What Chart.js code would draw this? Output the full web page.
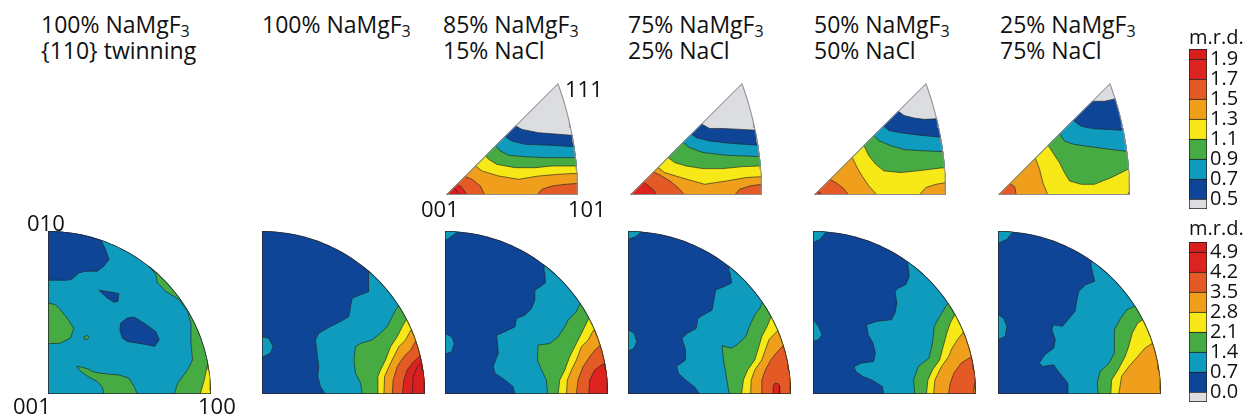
<!DOCTYPE html>
<html><head><meta charset="utf-8">
<script src="https://cdn.jsdelivr.net/npm/chart.js@4.4.1/dist/chart.umd.min.js"></script>
<style>
html,body{margin:0;padding:0;background:#fff}
#fig{position:relative;width:1248px;height:418px;overflow:hidden;font-family:'Open Sans',sans-serif;color:#111}
#fig canvas{position:absolute}
.lbl{position:absolute;white-space:nowrap}
.ttl{font-size:23px;line-height:23px}
.ax{font-size:22px;line-height:22px}
.mrd{font-size:20px;line-height:20px}
.sub{font-size:16px;position:relative;top:4px}
</style></head>
<body><div id="fig"></div>
<script>
// ---- colour-key levels (m.r.d.) ----
const triTicks  = ['0.5','0.7','0.9','1.1','1.3','1.5','1.7','1.9'];
const quadTicks = ['0.0','0.7','1.4','2.1','2.8','3.5','4.2','4.9'];
const keySteps  = [0.5, 1, 1, 1, 1, 1, 1, 1, 0.5];

const titles = [
  ['100% NaMgF₃', '{110} twinning'],
  ['100% NaMgF₃'],
  ['85% NaMgF₃', '15% NaCl'],
  ['75% NaMgF₃', '25% NaCl'],
  ['50% NaMgF₃', '50% NaCl'],
  ['25% NaMgF₃', '75% NaCl']
];

// ---- contour regions: [level, boundary, closed loop?] ----
// quarter-circle maps (001 at the corner, 100 right, 010 up), unit radius
const qTwin = [
  [1, [[0.322,0.947],[0.333,0.928],[0.353,0.887],[0.374,0.825],[0.343,0.784],[0.302,0.753],[0.23,0.753],[0.189,0.743],[0.148,0.706],[0.117,0.698],[0,0.698]]],
  [3, [[0,0.559],[0.045,0.548],[0.076,0.517],[0.117,0.466],[0.158,0.404],[0.138,0.343],[0.076,0.312],[0,0.308]]],
  [1, [[0.312,0.637],[0.394,0.624],[0.435,0.616],[0.429,0.569],[0.405,0.563],[0.363,0.589]], 1],
  [1, [[0.446,0.435],[0.487,0.466],[0.528,0.472],[0.589,0.435],[0.661,0.384],[0.682,0.333],[0.655,0.292],[0.61,0.302],[0.548,0.312],[0.487,0.322],[0.456,0.343],[0.441,0.394]], 1],
  [3, [[0.22,0.35],[0.24,0.36],[0.25,0.35],[0.24,0.335],[0.225,0.335]], 1],
  [3, [[0.343,0],[0.333,0.043],[0.3,0.078],[0.246,0.107],[0.2,0.14],[0.176,0.17],[0.21,0.164],[0.25,0.152],[0.271,0.138],[0.322,0.127],[0.363,0.123],[0.435,0.117],[0.497,0.097],[0.528,0.045],[0.548,0]]],
  [3, [[0.774,0],[0.795,0.064],[0.856,0.148],[0.887,0.209],[0.877,0.312],[0.877,0.435],[0.856,0.507],[0.805,0.579],[0.723,0.63],[0.671,0.682],[0.661,0.733],[0.62,0.784]]],
  [4, [[0.934,0],[0.959,0.086],[0.98,0.19]]]
];
const q100 = [
  [2, [[0.389,0],[0.359,0.045],[0.342,0.107],[0.348,0.168],[0.338,0.25],[0.328,0.332],[0.348,0.373],[0.42,0.414],[0.482,0.445],[0.533,0.475],[0.543,0.537],[0.553,0.588],[0.605,0.609],[0.656,0.629],[0.656,0.68],[0.652,0.758]]],
  [2, [[0,0.352],[0.041,0.342],[0.068,0.291],[0.051,0.25],[0,0.225]]],
  [3, [[0.615,0],[0.605,0.066],[0.574,0.127],[0.564,0.209],[0.574,0.291],[0.605,0.311],[0.676,0.332],[0.727,0.373],[0.768,0.414],[0.799,0.475],[0.82,0.516],[0.84,0.543]]],
  [4, [[0.707,0],[0.711,0.107],[0.727,0.148],[0.758,0.209],[0.789,0.291],[0.83,0.352],[0.861,0.414],[0.887,0.459]]],
  [5, [[0.748,0],[0.752,0.107],[0.779,0.168],[0.809,0.23],[0.84,0.291],[0.881,0.332],[0.912,0.39]]],
  [6, [[0.799,0],[0.805,0.086],[0.83,0.168],[0.871,0.23],[0.912,0.27],[0.94,0.32]]],
  [7, [[0.861,0],[0.871,0.086],[0.891,0.148],[0.922,0.189],[0.963,0.23],[0.975,0.24]]],
  [8, [[0.922,0],[0.928,0.107],[0.953,0.168],[0.98,0.2]]]
];
const q85 = [
  [2, [[0.071,0.99],[0.02,0.953],[0,0.943]]],
  [2, [[0,0.371],[0.041,0.351],[0.057,0.31],[0.041,0.259],[0,0.245]]],
  [2, [[0.429,0],[0.418,0.045],[0.367,0.086],[0.306,0.127],[0.296,0.167],[0.31,0.208],[0.327,0.249],[0.322,0.31],[0.316,0.361],[0.367,0.382],[0.429,0.412],[0.439,0.463],[0.49,0.484],[0.531,0.524],[0.551,0.576],[0.551,0.637],[0.582,0.657],[0.616,0.682],[0.612,0.749],[0.608,0.8]]],
  [3, [[0.629,0],[0.622,0.086],[0.592,0.147],[0.567,0.208],[0.571,0.3],[0.643,0.31],[0.694,0.351],[0.735,0.412],[0.755,0.453],[0.806,0.504],[0.83,0.56]]],
  [4, [[0.694,0],[0.704,0.086],[0.735,0.147],[0.765,0.229],[0.806,0.31],[0.837,0.371],[0.867,0.433],[0.885,0.47]]],
  [5, [[0.745,0],[0.751,0.086],[0.776,0.147],[0.806,0.208],[0.837,0.29],[0.878,0.331],[0.91,0.39]]],
  [6, [[0.806,0],[0.816,0.086],[0.847,0.167],[0.888,0.229],[0.92,0.27],[0.955,0.3]]],
  [7, [[0.882,0],[0.888,0.086],[0.918,0.147],[0.959,0.178],[0.985,0.19]]]
];
const q75 = [
  [2, [[0.081,0.994],[0.048,0.965],[0,0.949]]],
  [2, [[0,0.394],[0.037,0.374],[0.054,0.322],[0.037,0.281],[0,0.261]]],
  [2, [[0.44,0],[0.407,0.045],[0.353,0.086],[0.309,0.127],[0.298,0.168],[0.353,0.209],[0.353,0.27],[0.331,0.342],[0.364,0.372],[0.418,0.402],[0.429,0.464],[0.462,0.485],[0.516,0.515],[0.527,0.577],[0.538,0.639],[0.593,0.66],[0.636,0.682],[0.625,0.743],[0.614,0.785]]],
  [3, [[0.621,0],[0.603,0.107],[0.586,0.209],[0.577,0.296],[0.636,0.281],[0.669,0.302],[0.723,0.353],[0.745,0.414],[0.778,0.486],[0.81,0.528],[0.826,0.565]]],
  [4, [[0.697,0],[0.708,0.086],[0.734,0.148],[0.778,0.209],[0.8,0.281],[0.821,0.353],[0.854,0.415],[0.876,0.47]]],
  [5, [[0.752,0],[0.756,0.086],[0.778,0.148],[0.821,0.209],[0.843,0.271],[0.865,0.333],[0.9,0.37],[0.92,0.39]]],
  [6, [[0.821,0],[0.821,0.086],[0.843,0.148],[0.876,0.209],[0.908,0.25],[0.955,0.3]]],
  [7, [[0.891,0],[0.891,0.05],[0.9,0.065],[0.92,0.065],[0.93,0.05],[0.93,0]]]
];
const q50 = [
  [2, [[0.077,0.99],[0.044,0.949],[0,0.928]]],
  [2, [[0,0.456],[0.033,0.415],[0.055,0.363],[0.033,0.333],[0,0.322]]],
  [2, [[0.433,0],[0.427,0.045],[0.361,0.086],[0.306,0.107],[0.263,0.138],[0.252,0.168],[0.295,0.189],[0.372,0.2],[0.383,0.251],[0.368,0.312],[0.339,0.363],[0.328,0.425],[0.394,0.446],[0.481,0.456],[0.503,0.497],[0.514,0.559],[0.503,0.63],[0.525,0.651],[0.569,0.671],[0.591,0.723],[0.58,0.805],[0.586,0.81]]],
  [3, [[0.624,0],[0.617,0.086],[0.646,0.168],[0.711,0.22],[0.733,0.312],[0.744,0.415],[0.777,0.476],[0.821,0.548],[0.832,0.556]]],
  [4, [[0.696,0],[0.705,0.086],[0.733,0.148],[0.777,0.209],[0.799,0.292],[0.821,0.374],[0.842,0.435],[0.871,0.49]]],
  [5, [[0.74,0],[0.748,0.086],[0.788,0.168],[0.832,0.23],[0.853,0.281],[0.886,0.333],[0.923,0.38]]],
  [6, [[0.831,0],[0.842,0.066],[0.864,0.127],[0.908,0.189],[0.941,0.21],[0.974,0.23],[0.985,0.24]]],
  [5, [[0.985,0],[0.99,0.06],[1.0,0.08]]]
];
const q25 = [
  [2, [[0.088,0.99],[0.055,0.949],[0,0.924]]],
  [2, [[0,0.487],[0.033,0.466],[0.055,0.415],[0.044,0.353],[0,0.333]]],
  [2, [[0.429,0],[0.429,0.066],[0.396,0.107],[0.363,0.148],[0.341,0.179],[0.275,0.168],[0.253,0.189],[0.286,0.24],[0.341,0.281],[0.352,0.333],[0.33,0.394],[0.341,0.425],[0.396,0.415],[0.429,0.456],[0.473,0.507],[0.484,0.579],[0.495,0.63],[0.538,0.671],[0.593,0.692],[0.571,0.784],[0.571,0.815]]],
  [3, [[0.615,0],[0.609,0.066],[0.626,0.138],[0.681,0.189],[0.714,0.251],[0.714,0.394],[0.747,0.456],[0.791,0.517],[0.842,0.54]]],
  [4, [[0.692,0],[0.697,0.086],[0.736,0.148],[0.78,0.23],[0.802,0.292],[0.824,0.374],[0.857,0.435],[0.895,0.46]]],
  [5, [[0.741,0],[0.758,0.107],[0.802,0.168],[0.857,0.23],[0.901,0.281],[0.945,0.31]]]
];
// 001-101-111 triangles (equal-area projection, 101 at x = 1)
const t85 = [
  [1, [[0.525,0.525],[0.576,0.497],[0.702,0.472],[0.854,0.46],[0.955,0.452]]],
  [2, [[0.444,0.444],[0.5,0.409],[0.601,0.384],[0.803,0.376],[0.967,0.366]]],
  [3, [[0.374,0.374],[0.412,0.333],[0.475,0.301],[0.601,0.29],[0.753,0.283],[0.98,0.283]]],
  [4, [[0.298,0.298],[0.323,0.27],[0.386,0.232],[0.525,0.207],[0.677,0.207],[0.803,0.22],[0.98,0.22]]],
  [5, [[0.222,0.222],[0.273,0.182],[0.399,0.144],[0.551,0.119],[0.702,0.144],[0.854,0.157],[0.99,0.164]]],
  [6, [[0.141,0.141],[0.197,0.119],[0.26,0.068],[0.293,0]]],
  [6, [[0.689,0],[0.727,0.043],[0.803,0.068],[0.904,0.081],[1.0,0.088]]],
  [7, [[0.083,0.083],[0.121,0.056],[0.159,0]]],
  [8, [[0.058,0.058],[0.083,0.03],[0.096,0]]]
];
const t75 = [
  [1, [[0.539,0.539],[0.603,0.504],[0.704,0.504],[0.805,0.499],[0.957,0.491]]],
  [2, [[0.463,0.463],[0.501,0.435],[0.603,0.41],[0.754,0.392],[0.97,0.377]]],
  [3, [[0.4,0.4],[0.451,0.359],[0.552,0.322],[0.729,0.301],[0.982,0.291]]],
  [4, [[0.286,0.286],[0.337,0.246],[0.425,0.22],[0.552,0.2],[0.704,0.2],[0.856,0.215],[0.987,0.22]]],
  [5, [[0.21,0.21],[0.261,0.17],[0.387,0.132],[0.565,0.081],[0.729,0.106],[0.881,0.132],[0.995,0.139]]],
  [6, [[0.175,0.175],[0.23,0.15],[0.31,0.1],[0.37,0.05],[0.413,0]]],
  [6, [[0.792,0],[0.83,0.043],[0.906,0.068],[1.0,0.081]]],
  [7, [[0.1,0.1],[0.147,0.063],[0.185,0.03],[0.197,0]]]
];
const t50 = [
  [1, [[0.636,0.636],[0.682,0.603],[0.758,0.583],[0.835,0.573],[0.936,0.578]]],
  [2, [[0.524,0.524],[0.567,0.489],[0.656,0.471],[0.784,0.455],[0.962,0.438]]],
  [3, [[0.453,0.453],[0.491,0.412],[0.58,0.374],[0.682,0.344],[0.809,0.336],[0.987,0.328]]],
  [4, [[0.377,0.377],[0.415,0.298],[0.466,0.234],[0.529,0.183],[0.656,0.17],[0.784,0.183],[0.995,0.209]]],
  [5, [[0.288,0.288],[0.326,0.209],[0.364,0.145],[0.415,0.069],[0.478,0]]],
  [5, [[0.796,0],[0.847,0.056],[0.924,0.081],[1.0,0.094]]],
  [6, [[0.12,0.12],[0.17,0.09],[0.224,0.05],[0.262,0]]],
  [7, [[0.033,0.033],[0.058,0]]]
];
const t25 = [
  [1, [[0.71,0.71],[0.806,0.71],[0.886,0.728]]],
  [2, [[0.567,0.567],[0.63,0.521],[0.73,0.501],[0.844,0.496],[0.932,0.491]]],
  [3, [[0.466,0.466],[0.504,0.408],[0.579,0.383],[0.705,0.365],[0.856,0.345],[0.97,0.332]]],
  [4, [[0.378,0.378],[0.416,0.32],[0.466,0.244],[0.504,0.169],[0.542,0.106],[0.63,0.081],[0.73,0.081],[0.856,0.131],[0.982,0.194]]],
  [5, [[0.282,0.282],[0.315,0.194],[0.34,0.093],[0.378,0]]],
  [6, [[0.088,0.088],[0.126,0.063],[0.139,0]]],
  [5, [[0.982,0],[0.99,0.02],[1.0,0.03]]]
];

// ---- styling ----
const palette = ['#dcdde0','#0f4597','#0e9bbd','#46ab42','#f6e917','#ef9f1b','#e35a27','#dc231f','#d81f1e'];
const contourInk = 'rgba(35,35,35,0.85)';
const fig = document.getElementById('fig');

// ---- domain outlines in data units ----
function quarterDomain() {
  const p = [[0, 0], [1, 0]];
  for (let d = 0; d <= 90; d += 1.5) { const r = d * Math.PI / 180; p.push([Math.cos(r), Math.sin(r)]); }
  p.push([0, 0]);
  return p;
}
function triangleDomain() {
  // great circle 101-111 in the equal-area projection, scaled so that 101 -> (1, 0)
  const K = 2 * Math.sin(Math.PI / 8), sMax = Math.acos(Math.sqrt(2 / 3));
  const p = [[0, 0], [1, 0]];
  for (let i = 0; i <= 30; i++) {
    const s = sMax * i / 30, x = Math.cos(s) / Math.SQRT2, y = Math.sin(s), f = Math.sqrt(2 / (1 + x));
    p.push([x * f / K, y * f / K]);
  }
  p.push([0, 0]);
  return p;
}

// close a contour that runs edge-to-edge (region on its right) around the outside
function closeRegion(pts, c) {
  const R = 3, s = pts[0], e = pts[pts.length - 1];
  const aE = Math.atan2(e[1] - c[1], e[0] - c[0]);
  let aS = Math.atan2(s[1] - c[1], s[0] - c[0]);
  while (aS > aE) aS -= 2 * Math.PI;
  const out = pts.slice();
  for (let a = aE; a > aS; a -= 0.12) out.push([c[0] + R * Math.cos(a), c[1] + R * Math.sin(a)]);
  out.push([c[0] + R * Math.cos(aS), c[1] + R * Math.sin(aS)]);
  return out;
}

const xy = p => p.map(([x, y]) => ({x, y}));

function clipTo(domain) {
  return {
    id: 'domainClip',
    beforeDatasetsDraw(chart) {
      const ctx = chart.ctx, sx = chart.scales.x, sy = chart.scales.y;
      ctx.save();
      ctx.beginPath();
      domain.forEach(([x, y], i) => {
        const px = sx.getPixelForValue(x), py = sy.getPixelForValue(y);
        i ? ctx.lineTo(px, py) : ctx.moveTo(px, py);
      });
      ctx.closePath();
      ctx.clip();
    },
    afterDatasetsDraw(chart) { chart.ctx.restore(); }
  };
}

function mapPanel({x0, y0, unit, wu, hu, domain, centre, base, regions, edge, edgeW}) {
  const pad = 3;
  const w = Math.round(wu * unit) + 2 * pad, h = Math.round(hu * unit) + 2 * pad;
  const cv = document.createElement('canvas');
  cv.width = w; cv.height = h;
  cv.style.left = (x0 - pad) + 'px';
  cv.style.top = (y0 - (h - pad)) + 'px';
  fig.appendChild(cv);
  const n = regions.length;
  const line = {showLine: true, pointRadius: 0, pointHoverRadius: 0, tension: 0, clip: false};
  const sets = [{...line, data: xy(domain), fill: false, borderColor: edge, borderWidth: edgeW, order: 0}];
  regions.forEach(([lv, pts, loop], i) => {
    const poly = loop ? pts.concat([pts[0]]) : closeRegion(pts, centre);
    sets.push({...line, data: xy(poly), fill: 'shape', backgroundColor: palette[lv],
      borderColor: contourInk, borderWidth: 0.75, order: n - i});
  });
  sets.push({...line, data: xy(domain), fill: 'shape', backgroundColor: palette[base],
    borderColor: 'transparent', borderWidth: 1, order: n + 1});
  new Chart(cv, {
    type: 'scatter',
    data: {datasets: sets},
    options: {
      responsive: false, animation: false, devicePixelRatio: 1, events: [],
      layout: {padding: 0},
      plugins: {legend: {display: false}, tooltip: {enabled: false}},
      scales: {
        x: {type: 'linear', display: false, min: -pad / unit, max: (w - pad) / unit},
        y: {type: 'linear', display: false, min: -pad / unit, max: (h - pad) / unit}
      }
    },
    plugins: [clipTo(domain)]
  });
}

// ---- layout ----
const colX = [48, 262, 445, 628, 813, 998];
const quadY = 394, quadR = 163;
const triX = [null, null, 446, 630, 814, 998];
const triY = 195, triUnit = 132;

const quadMaps = [[qTwin, 2], [q100, 1], [q85, 1], [q75, 1], [q50, 1], [q25, 1]];
const triMaps = [null, null, t85, t75, t50, t25];

const qDom = quarterDomain(), tDom = triangleDomain();
quadMaps.forEach(([regions, base], i) => mapPanel({
  x0: colX[i], y0: quadY, unit: quadR, wu: 1, hu: 1, domain: qDom, centre: [0.42, 0.42],
  base, regions, edge: '#2b2b2b', edgeW: 1.6
}));
triMaps.forEach((regions, i) => {
  if (!regions) return;
  mapPanel({x0: triX[i], y0: triY, unit: triUnit, wu: 1, hu: tDom[tDom.length - 2][1],
    domain: tDom, centre: [0.62, 0.28], base: 0, regions, edge: '#8d8d8d', edgeW: 2});
});

// ---- colour keys ----
function colourKey(top, ticks) {
  const cv = document.createElement('canvas');
  cv.width = 61; cv.height = 200;
  cv.style.left = '1187px'; cv.style.top = top + 'px';
  fig.appendChild(cv);
  new Chart(cv, {
    type: 'bar',
    data: {labels: [''], datasets: keySteps.map((h, i) => ({
      data: [h], backgroundColor: palette[i], borderColor: '#1c1c1c', borderSkipped: false,
      borderWidth: {top: 1, left: 1, right: 1, bottom: i === 0 ? 1 : 0},
      barPercentage: 1, categoryPercentage: 1
    }))},
    options: {
      responsive: false, animation: false, devicePixelRatio: 1, events: [],
      layout: {padding: {top: 20, bottom: 20, left: 2, right: 0}},
      plugins: {legend: {display: false}, tooltip: {enabled: false}},
      scales: {
        x: {stacked: true, display: false},
        y: {stacked: true, position: 'right', min: 0, max: 8,
          grid: {display: false, drawTicks: false}, border: {display: false},
          afterBuildTicks: s => { s.ticks = ticks.map((t, i) => ({value: i + 0.5})); },
          afterFit: s => { s.width = 41; },
          ticks: {autoSkip: false, padding: 3, color: '#111', font: {family: 'Open Sans', size: 20},
            callback: (v, i) => ticks[i]}
        }
      }
    }
  });
}
colourKey(29, triTicks);
colourKey(222, quadTicks);

// ---- text ----
function label(text, cls, left, top) {
  const d = document.createElement('div');
  d.className = 'lbl ' + cls;
  d.style.left = left + 'px'; d.style.top = top + 'px';
  d.innerHTML = text.replace('₃', '<span class="sub">3</span>');
  fig.appendChild(d);
}
const titleX = [41, 262, 443, 628, 814, 1000];
titles.forEach((lines, i) => label(lines.join('<br>'), 'ttl', titleX[i], 13));
label('111', 'ax', 565, 77);
label('001', 'ax', 421, 197);
label('101', 'ax', 568, 197);
label('010', 'ax', 27, 211);
label('001', 'ax', 13, 394);
label('100', 'ax', 198, 394);
label('m.r.d.', 'mrd', 1189, 27);
label('m.r.d.', 'mrd', 1189, 218);
</script>
</body></html>
